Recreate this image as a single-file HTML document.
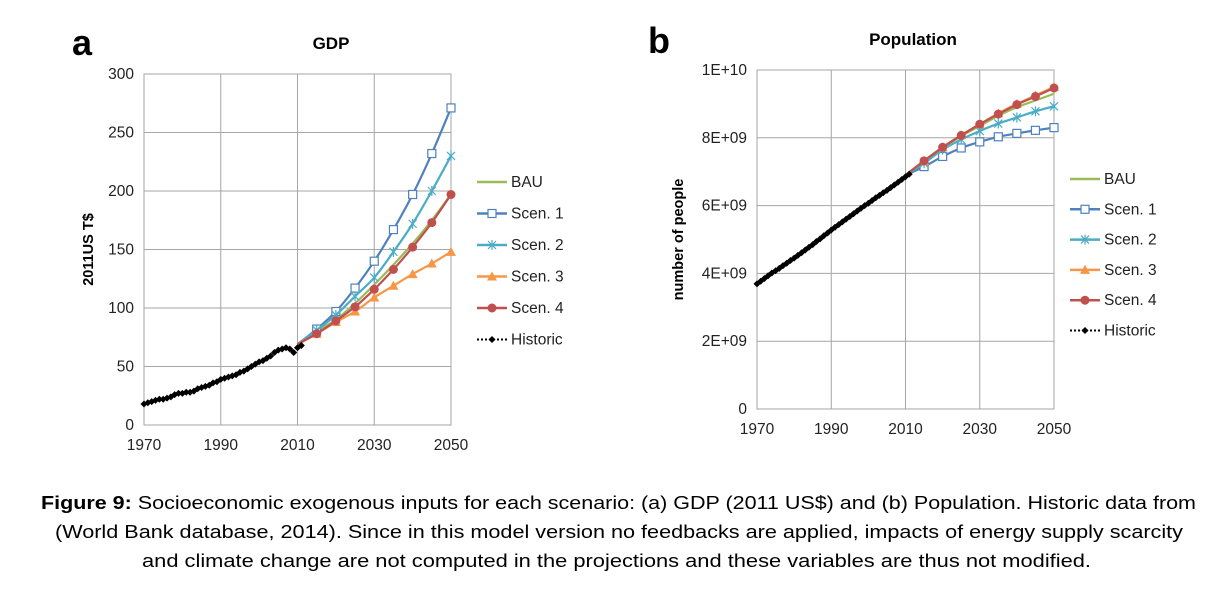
<!DOCTYPE html>
<html><head><meta charset="utf-8"><style>
html,body{margin:0;padding:0;background:#fff;}
svg{display:block;font-family:"Liberation Sans",sans-serif;}
</style></head><body>
<svg id="fig" width="1222" height="605" viewBox="0 0 1222 605">
<g id="chartA"></g>
<g id="chartB"></g>
<g font-size="18" fill="#000">
<text x="41" y="509" textLength="1155" lengthAdjust="spacingAndGlyphs"><tspan font-weight="bold">Figure 9:</tspan> Socioeconomic exogenous inputs for each scenario: (a) GDP (2011 US$) and (b) Population. Historic data from</text>
<text x="55" y="538" textLength="1128" lengthAdjust="spacingAndGlyphs">(World Bank database, 2014). Since in this model version no feedbacks are applied, impacts of energy supply scarcity</text>
<text x="142" y="567" textLength="949" lengthAdjust="spacingAndGlyphs">and climate change are not computed in the projections and these variables are thus not modified.</text>
</g>
</svg>
<script>
const histYears = [];for(let y=1970;y<=2011;y++)histYears.push(y);
const scenYears = [2010,2015,2020,2025,2030,2035,2040,2045,2050];
const xTicks = [1970,1990,2010,2030,2050];
const seriesNames = ["BAU","Scen. 1","Scen. 2","Scen. 3","Scen. 4"];
const gdpHist = [18,19,20,21,22,22,23,24,26,27,27,28,28,29,31,32,33,34,36,37,39,40,41,42,43,45,46,48,50,52,54,55,57,59,62,64,65,66,65,62,66,68];
const gdpBAU = [69,80,90,104,120,137,155,175,197];
const gdpS1 = [69,82,97,117,140,167,197,232,271];
const gdpS2 = [69,81,94,110,126,148,172,200,230];
const gdpS3 = [69,78,88,97,109,119,129,138,148];
const gdpS4 = [69,78,89,101,116,133,152,173,197];
const gdpTicks = [0,50,100,150,200,250,300];
const popHist = [3.69,3.77,3.85,3.93,4.01,4.08,4.15,4.23,4.30,4.38,4.45,4.53,4.61,4.69,4.77,4.85,4.94,5.02,5.11,5.19,5.28,5.36,5.44,5.52,5.60,5.68,5.76,5.84,5.92,6.00,6.07,6.15,6.23,6.30,6.38,6.45,6.53,6.61,6.69,6.77,6.85,6.93];
const popBAU = [6.9,7.3,7.7,8.05,8.35,8.65,8.9,9.1,9.3];
const popS1 = [6.9,7.15,7.45,7.7,7.88,8.03,8.13,8.22,8.3];
const popS2 = [6.9,7.25,7.65,7.95,8.2,8.42,8.6,8.78,8.93];
const popS3 = [6.9,7.32,7.72,8.08,8.4,8.72,9.0,9.25,9.5];
const popS4 = [6.9,7.32,7.72,8.07,8.4,8.7,8.98,9.22,9.47];
const popTicks = [0,2,4,6,8,10];
const popTickLabels = ["0","2E+09","4E+09","6E+09","8E+09","1E+10"];

const NS="http://www.w3.org/2000/svg";
function mk(parent,tag,attrs,text){const e=document.createElementNS(NS,tag);for(const k in attrs)e.setAttribute(k,attrs[k]);if(text!==undefined)e.textContent=text;parent.appendChild(e);return e;}
const colors=["#9bbb59","#4f81bd","#4bacc6","#f79646","#c0504d"];
const markers=["none","square","star","tri","circle"];

function smooth(pts){
  let d=`M${pts[0][0]},${pts[0][1]}`;
  for(let i=0;i<pts.length-1;i++){
    const p0=pts[Math.max(0,i-1)],p1=pts[i],p2=pts[i+1],p3=pts[Math.min(pts.length-1,i+2)];
    const c1=[p1[0]+(p2[0]-p0[0])/6,p1[1]+(p2[1]-p0[1])/6];
    const c2=[p2[0]-(p3[0]-p1[0])/6,p2[1]-(p3[1]-p1[1])/6];
    d+=`C${c1[0]},${c1[1]} ${c2[0]},${c2[1]} ${p2[0]},${p2[1]}`;
  }
  return d;
}

function marker(g,type,x,y,c){
  let e;
  if(type==="square"){e=mk(g,"rect",{x:x-4,y:y-4,width:8,height:8,fill:"#fff",stroke:c,"stroke-width":1.2});}
  else if(type==="star"){e=mk(g,"path",{d:`M${x-4},${y-4}L${x+4},${y+4}M${x-4},${y+4}L${x+4},${y-4}M${x},${y-5}L${x},${y+5}`,stroke:c,"stroke-width":1.2});}
  else if(type==="tri"){e=mk(g,"path",{d:`M${x},${y-5}L${x+5},${y+4}L${x-5},${y+4}Z`,fill:c});}
  else if(type==="circle"){e=mk(g,"circle",{cx:x,cy:y,r:4.5,fill:c});}
  else if(type==="diamond"){e=mk(g,"path",{d:`M${x},${y-3.5}L${x+3.5},${y}L${x},${y+3.5}L${x-3.5},${y}Z`,fill:"#000"});}
  if(e){
  }
}

function drawChart(cfg){
  const g=document.getElementById(cfg.id);
  const X=v=>cfg.x0+(v-1970)/80*(cfg.x1-cfg.x0);
  const Y=v=>cfg.y0-(v-cfg.ymin)/(cfg.ymax-cfg.ymin)*(cfg.y0-cfg.y1);
  cfg.yTicks.forEach((t,i)=>{
    const l=mk(g,"line",{x1:cfg.x0,x2:cfg.x1,y1:Y(t),y2:Y(t),stroke:"#a6a6a6","stroke-width":1});
    
    
    const tx=mk(g,"text",{x:cfg.x0-10,y:Y(t)+5,"text-anchor":"end","font-size":15.5,fill:"#222"},cfg.yLabels[i]);
    
    
  });
  xTicks.forEach(t=>{
    const l=mk(g,"line",{x1:X(t),x2:X(t),y1:cfg.y0,y2:cfg.y1,stroke:"#a6a6a6","stroke-width":1});
    
    
    const tx=mk(g,"text",{x:X(t),y:cfg.y0+25,"text-anchor":"middle","font-size":15.5,fill:"#222"},String(t));
    
    
  });
  const frame=mk(g,"rect",{x:cfg.x0,y:cfg.y1,width:cfg.x1-cfg.x0,height:cfg.y0-cfg.y1,fill:"none",stroke:"#a6a6a6"});
  
  
  const title=mk(g,"text",{x:cfg.tx,y:cfg.ty,"text-anchor":"middle","font-size":17,"font-weight":"bold"},cfg.title);
  
  
  const letter=mk(g,"text",{x:cfg.lx,y:cfg.ly,"font-size":36,"font-weight":"bold"},cfg.letter);
  
  
  const yt=mk(g,"text",{transform:`translate(${cfg.yax},${(cfg.y0+cfg.y1)/2}) rotate(-90)`,"text-anchor":"middle","font-size":14.5,"font-weight":"bold"},cfg.ytitle);
  
  
  cfg.series.forEach((s,i)=>{
    const pts=s.map((v,j)=>[X(scenYears[j]),Y(v)]);
    const p=mk(g,"path",{d:smooth(pts),fill:"none",stroke:colors[i],"stroke-width":2.2,"stroke-linejoin":"round"});
    
    
    pts.slice(1).forEach(pt=>marker(g,markers[i],pt[0],pt[1],colors[i]));
  });
  const hp=cfg.hist.map((v,j)=>[X(histYears[j]),Y(v)]);
  const h=mk(g,"polyline",{points:hp.map(p=>p.join(",")).join(" "),fill:"none",stroke:"#000","stroke-width":2,"stroke-dasharray":"2,2"});
  
  
  hp.forEach(pt=>marker(g,"diamond",pt[0],pt[1]));
  const names=seriesNames.concat(["Historic"]);
  names.forEach((n,i)=>{
    const y=cfg.legY+i*cfg.legDy;
    const lg=mk(g,"g",{});
    
    
    if(i<5){mk(lg,"line",{x1:cfg.legX,x2:cfg.legX+30,y1:y,y2:y,stroke:colors[i],"stroke-width":2.5});marker(lg,markers[i],cfg.legX+15,y,colors[i]);}
    else{mk(lg,"line",{x1:cfg.legX,x2:cfg.legX+30,y1:y,y2:y,stroke:"#000","stroke-width":2,"stroke-dasharray":"2,2"});marker(lg,"diamond",cfg.legX+15,y);}
    mk(lg,"text",{x:cfg.legX+34,y:y+5,"font-size":15.5,fill:"#222"},n);
  });
}
drawChart({id:"chartA",x0:144,x1:451,y0:425,y1:74,ymin:0,ymax:300,yTicks:gdpTicks,yLabels:gdpTicks.map(String),
  series:[gdpBAU,gdpS1,gdpS2,gdpS3,gdpS4],hist:gdpHist,title:"GDP",tx:331,ty:49,letter:"a",lx:72,ly:55,ytitle:"2011US T$",yax:93,legX:477,legY:182,legDy:31.5});
drawChart({id:"chartB",x0:757,x1:1054,y0:409,y1:70,ymin:0,ymax:10,yTicks:popTicks,yLabels:popTickLabels,
  series:[popBAU,popS1,popS2,popS3,popS4],hist:popHist,title:"Population",tx:913,ty:45,letter:"b",lx:648,ly:53,ytitle:"number of people",yax:683,legX:1070,legY:179,legDy:30.3});
</script>
</body></html>
